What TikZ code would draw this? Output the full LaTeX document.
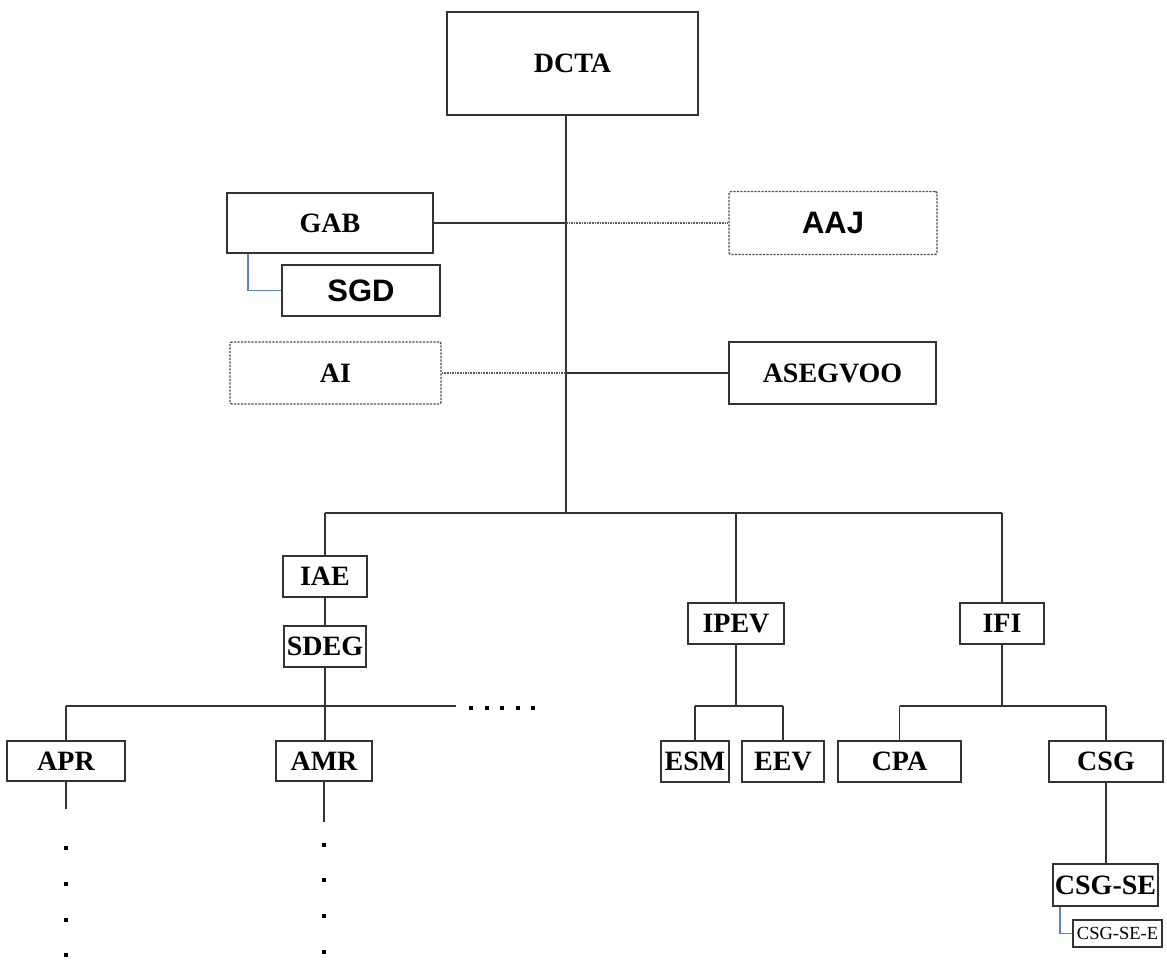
\documentclass[tikz,border=0pt]{standalone}
\usepackage{fontspec}
\setmainfont{Liberation Serif}
\newfontfamily\arialf{Liberation Sans}
\definecolor{linkblue}{HTML}{5B84C4}
\definecolor{edge}{HTML}{333333}
\tikzset{
  box/.style={draw=edge, line width=1.5pt, rectangle, inner sep=0pt, fill=white,
    font=\fontsize{28}{30}\selectfont\bfseries},
  dbox/.style={box, draw=black!70, line width=1.4pt, dash pattern=on 2.2pt off 1.3pt, rounded corners=2pt},
  conn/.style={draw=edge, line width=1.6pt},
  dotconn/.style={draw=black!65, line width=1.5pt, dash pattern=on 1.6pt off 1pt},
  bconn/.style={draw=linkblue, line width=1.3pt},
  dot/.style={fill=black, rectangle, inner sep=0pt, minimum size=3.5pt},
  afont/.style={font=\arialf\fontsize{31}{33}\selectfont\bfseries},
}
\begin{document}
\begin{tikzpicture}[x=1pt,y=-1pt]
\useasboundingbox (0,0) rectangle (1167,966);
% nodes
\node[box, minimum width=251pt, minimum height=103pt] (dcta) at (572.5,63.5) {DCTA};
\node[box, minimum width=206pt, minimum height=60pt] (gab) at (330,223) {GAB};
\node[dbox, afont, minimum width=208pt, minimum height=63pt] (aaj) at (833,223) {AAJ};
\node[box, afont, minimum width=158pt, minimum height=51pt] (sgd) at (361,290.5) {SGD};
\node[dbox, minimum width=211pt, minimum height=62pt] (ai) at (335.5,373) {AI};
\node[box, minimum width=207pt, minimum height=62pt] (aseg) at (832.5,373) {ASEGVOO};
\node[box, minimum width=84pt, minimum height=41pt] (iae) at (325,576.5) {IAE};
\node[box, minimum width=82pt, minimum height=41pt] (sdeg) at (325,646.5) {SDEG};
\node[box, minimum width=96pt, minimum height=41pt] (ipev) at (736,623.5) {IPEV};
\node[box, minimum width=84pt, minimum height=41pt] (ifi) at (1002,623.5) {IFI};
\node[box, minimum width=118pt, minimum height=40pt] (apr) at (66,761) {APR};
\node[box, minimum width=96pt, minimum height=40pt] (amr) at (324,761) {AMR};
\node[box, minimum width=68pt, minimum height=41pt] (esm) at (695,761.5) {ESM};
\node[box, minimum width=82pt, minimum height=41pt] (eev) at (783,761.5) {EEV};
\node[box, minimum width=123pt, minimum height=41pt] (cpa) at (899.5,761.5) {CPA};
\node[box, minimum width=114pt, minimum height=41pt] (csg) at (1106,761.5) {CSG};
\node[box, minimum width=105pt, minimum height=42pt] (csgse) at (1105.5,885) {CSG-SE};
\node[box, minimum width=89pt, minimum height=27pt, font=\fontsize{18.5}{20}\selectfont] (csgsee) at (1117.5,933.5) {CSG-SE-E};
% coordinates
\coordinate (trunk) at (566,513);
\coordinate (b2) at (325,706);
\coordinate (b2end) at (456,706);
\coordinate (b3) at (736,706);
\coordinate (b4) at (1002,706);
\coordinate (aprend) at (66,809);
\coordinate (amrend) at (324,822);
\coordinate (sgdturn) at (248,290.5);
\coordinate (seturn) at (1060,933.5);
% trunk
\draw[conn] (trunk |- dcta.south) -- (trunk);
\draw[conn] (gab.east) -- (trunk |- gab.east);
\draw[dotconn] (trunk |- gab.east) -- (aaj.west);
\draw[dotconn] (ai.east) -- (trunk |- ai.east);
\draw[conn] (trunk |- ai.east) -- (aseg.west);
\draw[bconn] (sgdturn |- gab.south) -- (sgdturn) -- (sgd.west);
% main bus
\draw[conn] (iae.north |- trunk) -- (ifi.north |- trunk);
\draw[conn] (iae.north |- trunk) -- (iae.north);
\draw[conn] (ipev.north |- trunk) -- (ipev.north);
\draw[conn] (ifi.north |- trunk) -- (ifi.north);
% IAE branch
\draw[conn] (iae.south) -- (sdeg.north);
\draw[conn] (sdeg.south) -- (sdeg.south |- amr.north);
\draw[conn] (apr.north |- b2) -- (b2end);
\draw[conn] (apr.north |- b2) -- (apr.north);
\draw[conn] (apr.south) -- (aprend);
\draw[conn] (amr.south) -- (amrend);
\foreach \x in {471,487,502,518,533} \node[dot] at (\x,708) {};
\foreach \y in {848,884,920,955} \node[dot] at (66,\y) {};
\foreach \y in {845,880,916,952} \node[dot] at (324,\y) {};
% IPEV branch
\draw[conn] (ipev.south) -- (b3);
\draw[conn] (esm.north |- b3) -- (eev.north |- b3);
\draw[conn] (esm.north |- b3) -- (esm.north);
\draw[conn] (eev.north |- b3) -- (eev.north);
% IFI branch
\draw[conn] (ifi.south) -- (b4);
\draw[conn] (cpa.north |- b4) -- (csg.north |- b4);
\draw[conn] (cpa.north |- b4) -- (cpa.north);
\draw[conn] (csg.north |- b4) -- (csg.north);
\draw[conn] (csg.south) -- (csg.south |- csgse.north);
\draw[bconn] (seturn |- csgse.south) -- (seturn) -- (csgsee.west);
\end{tikzpicture}
\end{document}
